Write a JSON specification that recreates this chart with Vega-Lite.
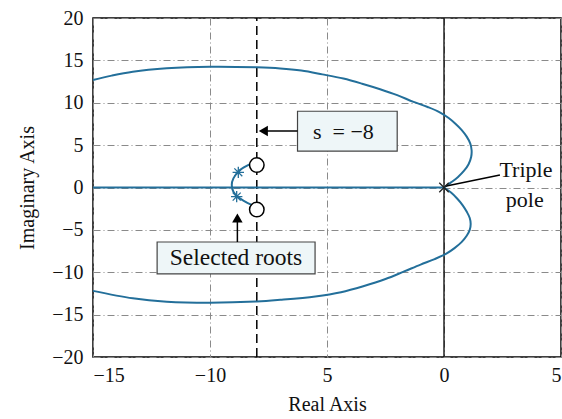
{
  "$schema": "https://vega.github.io/schema/vega-lite/v6.json",
  "width": 468,
  "height": 339,
  "autosize": "none",
  "padding": {"left": 93, "top": 18, "right": 1, "bottom": 62},
  "background": "white",
  "config": {
    "view": {"stroke": "black", "strokeWidth": 1.5},
    "font": "'Liberation Serif', 'Times New Roman', Times, serif",
    "axis": {
      "labelFont": "'Liberation Serif', 'Times New Roman', Times, serif", "titleFont": "'Liberation Serif', 'Times New Roman', Times, serif",
      "labelFontSize": 20, "titleFontSize": 20, "titleFontWeight": "normal",
      "labelColor": "#111", "titleColor": "#111",
      "domain": false, "ticks": false,
      "grid": true, "gridColor": "#8a8a8a", "gridDash": [7, 3, 1, 3], "gridWidth": 1
    }
  },
  "encoding": {
    "x": {"field": "x", "type": "quantitative",
      "scale": {"domain": [-15, 5], "nice": false, "zero": false},
      "axis": {"values": [-15, -10, -5, 0, 5], "title": "Real Axis", "labelPadding": 8, "titlePadding": 9,
        "labelExpr": "datum.value == -5 ? '5' : (datum.value < 0 ? '−' + (-datum.value) : datum.value + '')"}
    },
    "y": {"field": "y", "type": "quantitative",
      "scale": {"domain": [-20, 20], "nice": false, "zero": false},
      "axis": {"values": [-20, -15, -10, -5, 0, 5, 10, 15, 20], "title": "Imaginary Axis", "labelPadding": 10, "titlePadding": 14,
        "labelExpr": "datum.value < 0 ? '−' + (-datum.value) : datum.value + ''"}
    }
  },
  "layer": [
    {
      "data": {"values": [{"x": 0, "y": -20, "y2": 20}]},
      "mark": {"type": "rule", "color": "black", "strokeWidth": 1.3},
      "encoding": {"y2": {"field": "y2"}}
    },
    {
      "data": {"values": [{"x": -8, "y": -20, "y2": 20}]},
      "mark": {"type": "rule", "color": "black", "strokeWidth": 1.5, "strokeDash": [9, 5]},
      "encoding": {"y2": {"field": "y2"}}
    },
    {
      "data": {"values": [
        {"branch": "real", "o": 0, "x": -15, "y": 0},
        {"branch": "real", "o": 1, "x": 0, "y": 0},
        {"branch": "upper", "o": 0, "x": 0, "y": 0},
        {"branch": "upper", "o": 1, "x": 0.3, "y": 0.6},
        {"branch": "upper", "o": 2, "x": 0.6, "y": 1.25},
        {"branch": "upper", "o": 3, "x": 0.85, "y": 1.95},
        {"branch": "upper", "o": 4, "x": 1.05, "y": 2.75},
        {"branch": "upper", "o": 5, "x": 1.16, "y": 3.6},
        {"branch": "upper", "o": 6, "x": 1.18, "y": 4.4},
        {"branch": "upper", "o": 7, "x": 1.12, "y": 5.2},
        {"branch": "upper", "o": 8, "x": 0.97, "y": 6.0},
        {"branch": "upper", "o": 9, "x": 0.75, "y": 6.8},
        {"branch": "upper", "o": 10, "x": 0.5, "y": 7.5},
        {"branch": "upper", "o": 11, "x": 0.2, "y": 8.2},
        {"branch": "upper", "o": 12, "x": -0.2, "y": 8.9},
        {"branch": "upper", "o": 13, "x": -0.7, "y": 9.5},
        {"branch": "upper", "o": 14, "x": -1.3, "y": 10.1},
        {"branch": "upper", "o": 15, "x": -2.0, "y": 10.9},
        {"branch": "upper", "o": 16, "x": -2.73, "y": 11.6},
        {"branch": "upper", "o": 17, "x": -3.5, "y": 12.25},
        {"branch": "upper", "o": 18, "x": -4.3, "y": 12.85},
        {"branch": "upper", "o": 19, "x": -5.2, "y": 13.35},
        {"branch": "upper", "o": 20, "x": -6.1, "y": 13.8},
        {"branch": "upper", "o": 21, "x": -7.0, "y": 14.05},
        {"branch": "upper", "o": 22, "x": -8.0, "y": 14.18},
        {"branch": "upper", "o": 23, "x": -10.0, "y": 14.25},
        {"branch": "upper", "o": 24, "x": -11.85, "y": 14.06},
        {"branch": "upper", "o": 25, "x": -13.3, "y": 13.66},
        {"branch": "upper", "o": 26, "x": -14.2, "y": 13.2},
        {"branch": "upper", "o": 27, "x": -15, "y": 12.68},
        {"branch": "lower", "o": 0, "x": 0, "y": 0},
        {"branch": "lower", "o": 1, "x": 0.3, "y": -0.6},
        {"branch": "lower", "o": 2, "x": 0.56, "y": -1.3},
        {"branch": "lower", "o": 3, "x": 0.8, "y": -2.1},
        {"branch": "lower", "o": 4, "x": 0.98, "y": -2.9},
        {"branch": "lower", "o": 5, "x": 1.1, "y": -3.6},
        {"branch": "lower", "o": 6, "x": 1.14, "y": -4.3},
        {"branch": "lower", "o": 7, "x": 1.1, "y": -5.0},
        {"branch": "lower", "o": 8, "x": 0.97, "y": -5.7},
        {"branch": "lower", "o": 9, "x": 0.75, "y": -6.45},
        {"branch": "lower", "o": 10, "x": 0.45, "y": -7.15},
        {"branch": "lower", "o": 11, "x": 0.1, "y": -7.8},
        {"branch": "lower", "o": 12, "x": -0.4, "y": -8.45},
        {"branch": "lower", "o": 13, "x": -1.0, "y": -9.1},
        {"branch": "lower", "o": 14, "x": -1.7, "y": -9.9},
        {"branch": "lower", "o": 15, "x": -2.5, "y": -10.8},
        {"branch": "lower", "o": 16, "x": -3.45, "y": -11.65},
        {"branch": "lower", "o": 17, "x": -4.4, "y": -12.35},
        {"branch": "lower", "o": 18, "x": -5.5, "y": -12.85},
        {"branch": "lower", "o": 19, "x": -7.0, "y": -13.25},
        {"branch": "lower", "o": 20, "x": -8.0, "y": -13.45},
        {"branch": "lower", "o": 21, "x": -10.0, "y": -13.59},
        {"branch": "lower", "o": 22, "x": -11.85, "y": -13.47},
        {"branch": "lower", "o": 23, "x": -13.3, "y": -13.08},
        {"branch": "lower", "o": 24, "x": -15, "y": -12.2},
        {"branch": "arc", "o": 0, "x": -8.29, "y": 2.77},
        {"branch": "arc", "o": 1, "x": -8.72, "y": 2.06},
        {"branch": "arc", "o": 2, "x": -9.0, "y": 1.08},
        {"branch": "arc", "o": 3, "x": -9.07, "y": 0.3},
        {"branch": "arc", "o": 4, "x": -9.0, "y": -0.5},
        {"branch": "arc", "o": 5, "x": -8.79, "y": -1.16},
        {"branch": "arc", "o": 6, "x": -8.5, "y": -1.67},
        {"branch": "arc", "o": 7, "x": -8.22, "y": -2.06}
      ]},
      "mark": {"type": "line", "color": "#236f9a", "strokeWidth": 2, "interpolate": "catmull-rom"},
      "encoding": {
        "detail": {"field": "branch"},
        "order": {"field": "o", "type": "quantitative"}
      }
    },
    {
      "data": {"values": [{"x": -8.79, "y": 1.79}, {"x": -8.86, "y": -1.08}]},
      "mark": {"type": "point", "shape": "M0,-1L0,1M-1,0L1,0M-0.7,-0.7L0.7,0.7M-0.7,0.7L0.7,-0.7", "filled": false, "stroke": "#236f9a", "strokeWidth": 1.3, "size": 130, "opacity": 1}
    },
    {
      "data": {"values": [
        {"x": -6.26, "x2": -2.0, "y": 9.0, "y2": 4.3},
        {"x": -12.26, "x2": -5.51, "y": -6.43, "y2": -10.2}
      ]},
      "mark": {"type": "rect", "fill": "#eef6f8", "stroke": "#444", "strokeWidth": 1.2},
      "encoding": {
        "x2": {"field": "x2"},
        "y2": {"field": "y2"}
      }
    },
    {
      "data": {"values": [
        {"x": -6.26, "x2": -7.7, "y": 6.67, "y2": 6.67},
        {"x": -8.83, "x2": -8.83, "y": -6.43, "y2": -4.0},
        {"x": 2.39, "x2": 0.05, "y": 1.47, "y2": 0.15}
      ]},
      "mark": {"type": "rule", "color": "black", "strokeWidth": 1.5},
      "encoding": {
        "x2": {"field": "x2"},
        "y2": {"field": "y2"}
      }
    },
    {
      "data": {"values": [{"x": -7.72, "y": 6.67, "s": "triangle-left"}, {"x": -8.83, "y": -3.6, "s": "triangle-up"}]},
      "mark": {"type": "point", "filled": true, "color": "black", "size": 110, "opacity": 1},
      "encoding": {
        "shape": {"field": "s", "type": "nominal", "scale": null, "legend": null}
      }
    },
    {
      "data": {"values": [{"x": -8, "y": 2.65}, {"x": -8, "y": -2.6}]},
      "mark": {"type": "point", "shape": "circle", "filled": true, "fill": "white", "stroke": "black", "strokeWidth": 1.5, "size": 210, "opacity": 1}
    },
    {
      "data": {"values": [{"x": 0, "y": 0}]},
      "mark": {"type": "point", "shape": "M-1,-1L1,1M-1,1L1,-1", "filled": false, "stroke": "#222", "strokeWidth": 1.3, "size": 90, "opacity": 1}
    },
    {
      "data": {"values": [
        {"x": -8.89, "y": -8.3, "t": "Selected roots", "st": "normal", "fs": 23.5},
        {"x": 3.5, "y": 2.06, "t": "Triple", "st": "normal", "fs": 22},
        {"x": 3.45, "y": -1.5, "t": "pole", "st": "normal", "fs": 22},
        {"x": -3.88, "y": 6.6, "t": "= −8", "st": "normal", "fs": 22},
        {"x": -5.42, "y": 6.6, "t": "s", "st": "italic", "fs": 22}
      ]},
      "mark": {"type": "text", "font": "'Liberation Serif', 'Times New Roman', Times, serif", "color": "#111", "align": "center", "baseline": "middle"},
      "encoding": {
        "text": {"field": "t"},
        "size": {"field": "fs", "type": "quantitative", "scale": null, "legend": null},
        "fontStyle": {"field": "st", "type": "nominal", "scale": null, "legend": null}
      }
    }
  ]
}
